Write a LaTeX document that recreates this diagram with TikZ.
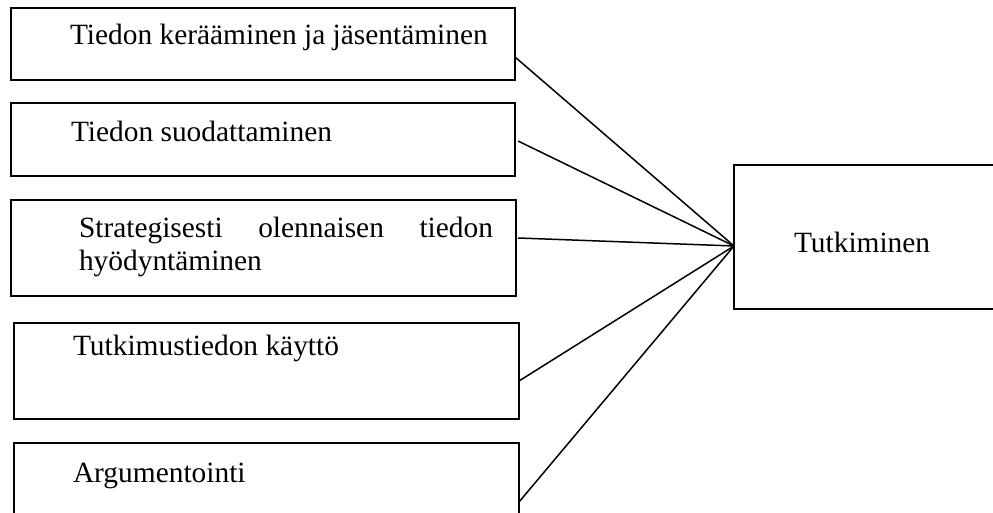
\documentclass[tikz,border=0pt]{standalone}
\usepackage{fontspec}
\setmainfont{Liberation Serif}
\begin{document}
\begin{tikzpicture}[x=1bp,y=-1bp,
  box/.style={draw, line width=1.5bp, rectangle, inner sep=0pt, outer sep=0pt, anchor=north west},
  lbl/.style={inner sep=0pt, outer sep=0pt, anchor=base west, font=\fontsize{29.4bp}{33bp}\selectfont},
  link/.style={line width=1.5bp}]
\clip (0,0) rectangle (993,513);
\fill[white] (0,0) rectangle (993,513);
% boxes
\node[box, minimum width=504bp, minimum height=72bp] (b1) at (11,8) {};
\node[box, minimum width=504bp, minimum height=73bp] (b2) at (11,103) {};
\node[box, minimum width=505bp, minimum height=96bp] (b3) at (11,200) {};
\node[box, minimum width=505bp, minimum height=96bp] (b4) at (14,323) {};
\node[box, minimum width=505bp, minimum height=80bp] (b5) at (14,443) {};
\node[box, minimum width=270bp, minimum height=144bp] (r) at (734,165) {};
% texts
\node[lbl] (t1) at (70,45) {Tiedon kerääminen ja jäsentäminen};
\node[lbl] (t2) at (71,142) {Tiedon suodattaminen};
\node[lbl] (t3a) at (79,238) {\makebox[414bp][s]{Strategisesti olennaisen tiedon}};
\node[lbl] (t3b) at (79,271) {hyödyntäminen};
\node[lbl] (t4) at (73,356) {Tutkimustiedon käyttö};
\node[lbl] (t5) at (73,482) {Argumentointi};
\node[lbl] (tr) at (794,253) {Tutkiminen};
% connectors
\coordinate (hub) at (r.west |- 0,246);
\draw[link] (b1.east |- 0,57) -- (hub);
\draw[link] ([xshift=3bp]b2.east |- 0,141) -- (hub);
\draw[link] ([xshift=2bp]b3.east |- 0,238) -- (hub);
\draw[link] (b4.east |- 0,381) -- (hub);
\draw[link] (b5.east |- 0,502) -- (hub);
\end{tikzpicture}
\end{document}
